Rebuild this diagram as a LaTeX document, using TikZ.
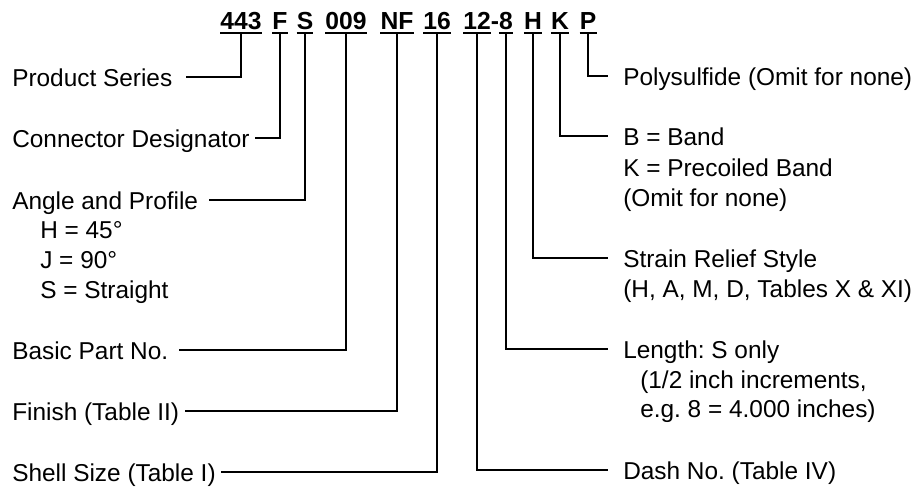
\documentclass[tikz,border=0pt]{standalone}
\usepackage{fontspec}
\setmainfont{Liberation Sans}
\frenchspacing
\tikzset{
  partcode/.style={font=\bfseries\fontsize{18.5}{22}\selectfont, inner xsep=0pt, inner ysep=3pt, text depth=0pt, anchor=base},
  entry/.style={font=\fontsize{18.3}{22}\selectfont, inner sep=0pt, text height=13pt, text depth=0pt, anchor=base west},
  lead/.style={line width=1.5pt}
}
\begin{document}
\begin{tikzpicture}[x=0.75pt,y=-0.75pt]
    \useasboundingbox (0,0) rectangle (923,487);

    % part number
    \node[partcode] (c443) at (241,29) {443};
    \node[partcode] (cF) at (280,29) {F};
    \node[partcode] (cS) at (305,29) {S};
    \node[partcode] (c009) at (346,29) {009};
    \node[partcode] (cNF) at (397,29) {NF};
    \node[partcode] (c16) at (437,29) {16};
    \node[partcode] (c12) at (477,29) {12};
    \node[partcode] (chyph) at (495,29) {-};
    \node[partcode] (c8) at (506,29) {8};
    \node[partcode] (cH) at (533,29) {H};
    \node[partcode] (cK) at (560,29) {K};
    \node[partcode] (cP) at (588,29) {P};
    \foreach \c in {c443,cF,cS,c009,cNF,c16,c12,c8,cH,cK,cP}
        \draw[lead] (\c.south west) -- (\c.south east);

    % left side
    \node[entry] (series) at (12,86) {Product Series};
    \node[entry] (designator) at (12,147) {Connector Designator};
    \node[entry] (angle) at (12,209) {Angle and Profile};
    \node[entry] (angleH) at (40,238) {H = 45°};
    \node[entry] (angleJ) at (40,268) {J = 90°};
    \node[entry] (angleS) at (40,298) {S = Straight};
    \node[entry] (basic) at (12,359) {Basic Part No.};
    \node[entry] (finish) at (12,420) {Finish (Table II)};
    \node[entry] (shell) at (12,481) {Shell Size (Table I)};

    % right side
    \node[entry] (poly) at (623,85) {Polysulfide (Omit for none)};
    \node[entry] (band) at (623,145) {B = Band};
    \node[entry] (bandK) at (623,176) {K = Precoiled Band};
    \node[entry] (bandnone) at (623,206) {(Omit for none)};
    \node[entry] (strain) at (623,267) {Strain Relief Style};
    \node[entry] (strainsub) at (623,297) {(H, A, M, D, Tables X \& XI)};
    \node[entry] (length) at (623,358) {Length: S only};
    \node[entry] (lengthA) at (640,388) {(1/2 inch increments,};
    \node[entry] (lengthB) at (640,417) {e.g. 8 = 4.000 inches)};
    \node[entry] (dash) at (623,479) {Dash No. (Table IV)};

    % leads
    \draw[lead] (c443.south) |- ([xshift=10pt]series.east);
    \draw[lead] (cF.south) |- ([xshift=4pt]designator.east);
    \draw[lead] (cS.south) |- ([xshift=8pt]angle.east);
    \draw[lead] (c009.south) |- ([xshift=8pt]basic.east);
    \draw[lead] (cNF.south) |- ([xshift=4pt]finish.east);
    \draw[lead] (c16.south) |- ([xshift=4pt]shell.east);
    \draw[lead] (cP.south) |- ([xshift=-11pt]poly.west);
    \draw[lead] (cK.south) |- ([xshift=-11pt]band.west);
    \draw[lead] (cH.south) |- ([xshift=-11pt]strain.west);
    \draw[lead] (c8.south) |- ([xshift=-11pt]length.west);
    \draw[lead] (c12.south) |- ([xshift=-11pt]dash.west);
\end{tikzpicture}
\end{document}
